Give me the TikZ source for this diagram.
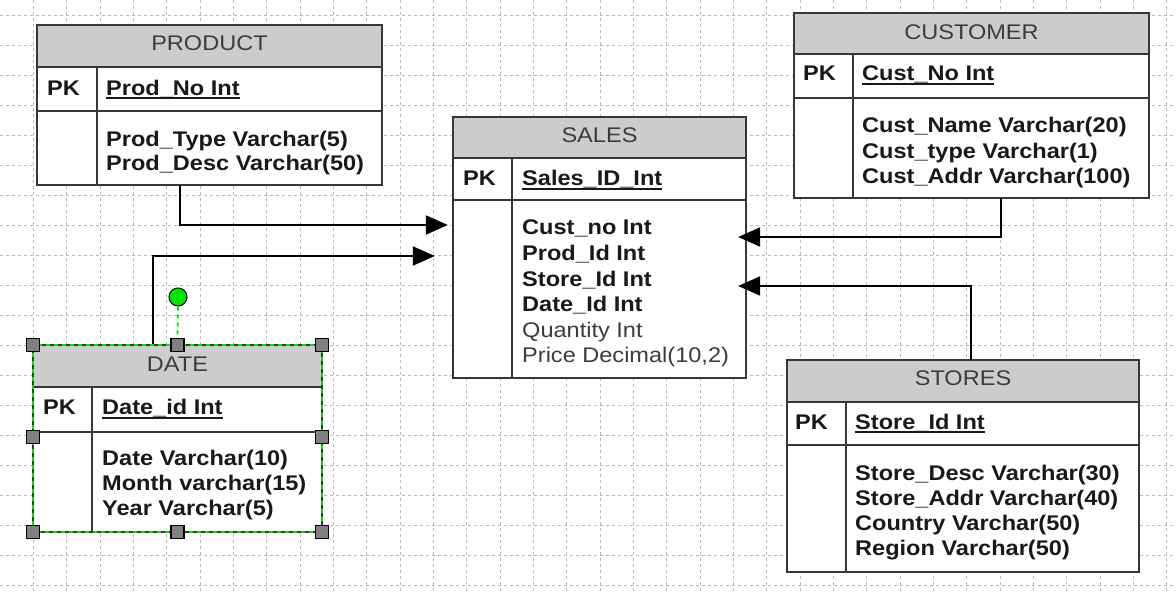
\documentclass[tikz,border=0pt]{standalone}
\usepackage{fontspec}
\setmainfont{Liberation Sans}[FakeStretch=1.111]
\usetikzlibrary{arrows.meta,fit}

\definecolor{headgray}{RGB}{204,204,204}
\definecolor{framegray}{RGB}{55,55,55}
\definecolor{gridgray}{RGB}{185,185,185}
\definecolor{selgreen}{RGB}{0,230,0}
\definecolor{handlegray}{RGB}{128,128,128}
\definecolor{textdark}{RGB}{25,25,25}
\definecolor{textsoft}{RGB}{60,60,60}

\newcommand\erdfont{\fontsize{21.2pt}{25pt}\selectfont}

% underlined primary key text
\newsavebox\keybox
\newcommand\keyul[1]{\sbox\keybox{#1}\rlap{\usebox\keybox}\rule[-3.6pt]{\wd\keybox}{1.7pt}}

% table frame: name, left, top, right, bottom, header bottom, key row bottom, divider x
\newcommand\erdtable[8]{%
  \node[fit={(#2,#3) (#4,#5)}, inner sep=0pt, fill=white] (#1) {};
  \fill[headgray] (#2,#3) rectangle (#4,#6);
  \draw[tblline] (#2,#6) -- (#4,#6) (#2,#7) -- (#4,#7) (#8,#6) -- (#8,#5);
  \draw[tblline] (#1.north west) rectangle (#1.south east);
}

\begin{document}
\begin{tikzpicture}[x=1pt,y=-1pt,
  gridline/.style={draw=gridgray, line width=0.9pt, dash pattern=on 3pt off 3pt},
  tblline/.style={draw=framegray, line width=2pt},
  head/.style={anchor=base, inner sep=0pt, text=textsoft, font=\erdfont},
  pkcell/.style={anchor=base west, inner sep=0pt, text=textdark, font=\erdfont\bfseries},
  fld/.style={anchor=base west, inner sep=0pt, text=textdark, font=\erdfont\bfseries},
  fldplain/.style={anchor=base west, inner sep=0pt, text=textsoft, font=\erdfont},
  fk/.style={draw=black, line width=2pt, -{Triangle[length=22pt,width=19pt]}},
  handle/.style={draw=black, fill=handlegray, line width=1.2pt, minimum size=13pt, inner sep=0pt},
  selline/.style={draw=selgreen, line width=1.8pt, dash pattern=on 4pt off 4pt}]

\useasboundingbox (0,0) rectangle (1176,593);
\fill[white] (0,0) rectangle (1176,593);

% background grid
\foreach \i in {1,...,35} \draw[gridline] (\i*33.333,0) -- (\i*33.333,593);
\foreach \j in {0,...,19} \draw[gridline] (0,15+\j*30) -- (1176,15+\j*30);

% tables
\erdtable{prod}{37}{25}{382}{185}{67}{111}{97}
\erdtable{sales}{453}{117}{746}{378}{158}{200}{512}
\erdtable{cust}{794}{13}{1149}{198}{54}{98}{853}
\erdtable{stores}{787}{360}{1139}{572}{402}{445}{846}
\erdtable{date}{33}{345}{322}{532}{387}{432}{92}

% PRODUCT
\node[head] (prod-h) at (209.5,51) {PRODUCT};
\node[pkcell] (prod-pk) at (47,95.5) {PK};
\node[pkcell] (prod-key) at (106,95.5) {\keyul{Prod\_No Int}};
\node[fld] (prod-f1) at (106,146.5) {Prod\_Type Varchar(5)};
\node[fld] (prod-f2) at (106,171) {Prod\_Desc Varchar(50)};

% SALES
\node[head] (sales-h) at (599.5,142.5) {SALES};
\node[pkcell] (sales-pk) at (463,186) {PK};
\node[pkcell] (sales-key) at (522,186) {\keyul{Sales\_ID\_Int}};
\node[fld] (sales-f1) at (522,235) {Cust\_no Int};
\node[fld] (sales-f2) at (522,261) {Prod\_Id Int};
\node[fld] (sales-f3) at (522,287) {Store\_Id Int};
\node[fld] (sales-f4) at (522,312) {Date\_Id Int};
\node[fldplain] (sales-f5) at (522,338) {Quantity Int};
\node[fldplain] (sales-f6) at (522,363) {Price Decimal(10,2)};

% CUSTOMER
\node[head] (cust-h) at (971.5,39.5) {CUSTOMER};
\node[pkcell] (cust-pk) at (803,81) {PK};
\node[pkcell] (cust-key) at (862,81) {\keyul{Cust\_No Int}};
\node[fld] (cust-f1) at (862,132.7) {Cust\_Name Varchar(20)};
\node[fld] (cust-f2) at (862,158.3) {Cust\_type Varchar(1)};
\node[fld] (cust-f3) at (862,183.5) {Cust\_Addr Varchar(100)};

% STORES
\node[head] (stores-h) at (963,386) {STORES};
\node[pkcell] (stores-pk) at (795,429.5) {PK};
\node[pkcell] (stores-key) at (855,429.5) {\keyul{Store\_Id Int}};
\node[fld] (stores-f1) at (855,480.7) {Store\_Desc Varchar(30)};
\node[fld] (stores-f2) at (855,506) {Store\_Addr Varchar(40)};
\node[fld] (stores-f3) at (855,530.7) {Country Varchar(50)};
\node[fld] (stores-f4) at (855,555.7) {Region Varchar(50)};

% DATE
\node[head] (date-h) at (177.5,371.5) {DATE};
\node[pkcell] (date-pk) at (43,415) {PK};
\node[pkcell] (date-key) at (102,415) {\keyul{Date\_id Int}};
\node[fld] (date-f1) at (102,465.7) {Date Varchar(10)};
\node[fld] (date-f2) at (102,490.7) {Month varchar(15)};
\node[fld] (date-f3) at (102,515.7) {Year Varchar(5)};

% relationships
\draw[fk] (prod.south -| 180,0) |- ([xshift=-5pt]sales.west |- 0,225);
\draw[fk] (date.north -| 153,0) |- ([xshift=-18pt]sales.west |- 0,256);
\draw[fk] (cust.south -| 1001,0) |- ([xshift=-8pt]sales.east |- 0,237);
\draw[fk] (stores.north -| 971,0) |- ([xshift=-8pt]sales.east |- 0,286);

% selection marks on DATE
\draw[selline] (date.north west) rectangle (date.south east);
\node[circle, draw=black, fill=selgreen, line width=1pt, minimum size=18pt, inner sep=0pt] (rot) at (178,297) {};
\node[handle] (h-n) at (date.north) {};
\draw[selline] (rot.south) -- (h-n.north);
\node[handle] (h-nw) at (date.north west) {};
\node[handle] (h-ne) at (date.north east) {};
\node[handle] (h-w) at (33,437) {};
\node[handle] (h-e) at (322,437) {};
\node[handle] (h-sw) at (date.south west) {};
\node[handle] (h-s) at (date.south) {};
\node[handle] (h-se) at (date.south east) {};
\end{tikzpicture}
\end{document}
